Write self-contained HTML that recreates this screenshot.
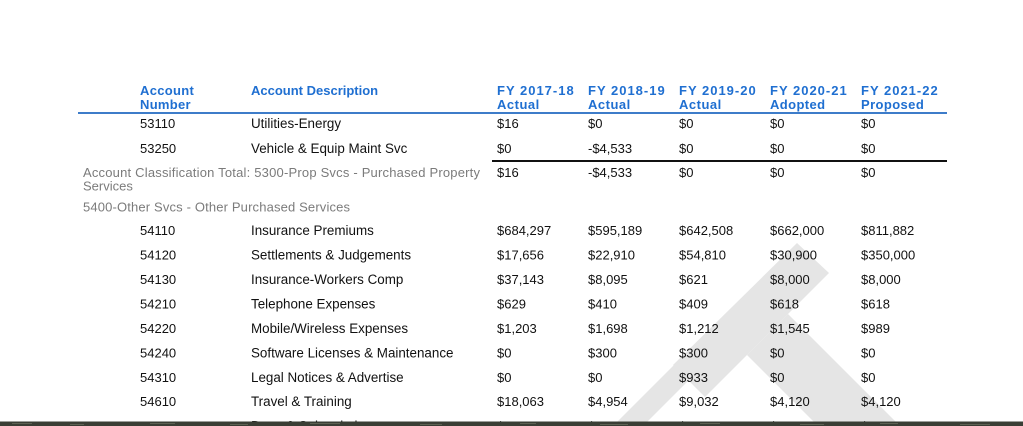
<!DOCTYPE html>
<html><head><meta charset="utf-8"><style>
html,body{margin:0;padding:0;background:#fff;width:1023px;height:426px;overflow:hidden}
svg{display:block}
text{font-family:"Liberation Sans",Arial,sans-serif;font-size:13px;fill:#111}
.h{font-weight:bold;fill:#1f6fd1}
.g{fill:#7b7b7b}
.d{font-size:13.4px}
</style></head><body>
<svg width="1023" height="426" viewBox="0 0 1023 426" xmlns="http://www.w3.org/2000/svg">
<rect width="1023" height="426" fill="#fff"/>
<!-- watermark -->
<g fill="#e5e5e5">
<polygon points="673,365 797,243 829,273 705,397"/>
<polygon points="747,355 788,314 900,426 818,426"/>
<polygon points="613,426 675,364 690,379 643,426"/>
</g>
<!-- header -->
<g class="h">
<text class="h" x="140" y="95" letter-spacing="0.3">Account</text>
<text class="h" x="140" y="109" letter-spacing="0.3">Number</text>
<text class="h" x="251" y="95">Account Description</text>
<text class="h" x="497" y="95" letter-spacing="1">FY 2017-18</text>
<text class="h" x="497" y="109" letter-spacing="0.5">Actual</text>
<text class="h" x="588" y="95" letter-spacing="1">FY 2018-19</text>
<text class="h" x="588" y="109" letter-spacing="0.5">Actual</text>
<text class="h" x="679" y="95" letter-spacing="1">FY 2019-20</text>
<text class="h" x="679" y="109" letter-spacing="0.5">Actual</text>
<text class="h" x="770" y="95" letter-spacing="1">FY 2020-21</text>
<text class="h" x="770" y="109" letter-spacing="0.4">Adopted</text>
<text class="h" x="861" y="95" letter-spacing="1">FY 2021-22</text>
<text class="h" x="861" y="109" letter-spacing="0.4">Proposed</text>
</g>
<rect x="78" y="112" width="869" height="2" fill="#3d7cc9"/>
<!-- rows 53xx -->
<text x="140" y="128">53110</text><text class="d" x="251" y="128">Utilities-Energy</text>
<text x="497" y="128">$16</text><text x="588" y="128">$0</text><text x="679" y="128">$0</text><text x="770" y="128">$0</text><text x="861" y="128">$0</text>
<text x="140" y="153">53250</text><text class="d" x="251" y="153">Vehicle &amp; Equip Maint Svc</text>
<text x="497" y="153">$0</text><text x="588" y="153">-$4,533</text><text x="679" y="153">$0</text><text x="770" y="153">$0</text><text x="861" y="153">$0</text>
<rect x="492" y="160" width="455" height="2" fill="#111"/>
<text class="g" x="83" y="177" textLength="397" lengthAdjust="spacing">Account Classification Total: 5300-Prop Svcs - Purchased Property</text>
<text class="g" x="83" y="190.5">Services</text>
<text x="497" y="177">$16</text><text x="588" y="177">-$4,533</text><text x="679" y="177">$0</text><text x="770" y="177">$0</text><text x="861" y="177">$0</text>
<text class="g" x="83" y="211.5" textLength="267" lengthAdjust="spacing">5400-Other Svcs - Other Purchased Services</text>
<!-- rows 54xx -->
<g>
<text x="140" y="235">54110</text><text class="d" x="251" y="235">Insurance Premiums</text>
<text x="497" y="235">$684,297</text><text x="588" y="235">$595,189</text><text x="679" y="235">$642,508</text><text x="770" y="235">$662,000</text><text x="861" y="235">$811,882</text>

<text x="140" y="259.5">54120</text><text class="d" x="251" y="259.5">Settlements &amp; Judgements</text>
<text x="497" y="259.5">$17,656</text><text x="588" y="259.5">$22,910</text><text x="679" y="259.5">$54,810</text><text x="770" y="259.5">$30,900</text><text x="861" y="259.5">$350,000</text>

<text x="140" y="284">54130</text><text class="d" x="251" y="284">Insurance-Workers Comp</text>
<text x="497" y="284">$37,143</text><text x="588" y="284">$8,095</text><text x="679" y="284">$621</text><text x="770" y="284">$8,000</text><text x="861" y="284">$8,000</text>

<text x="140" y="308.5">54210</text><text class="d" x="251" y="308.5">Telephone Expenses</text>
<text x="497" y="308.5">$629</text><text x="588" y="308.5">$410</text><text x="679" y="308.5">$409</text><text x="770" y="308.5">$618</text><text x="861" y="308.5">$618</text>

<text x="140" y="333">54220</text><text class="d" x="251" y="333">Mobile/Wireless Expenses</text>
<text x="497" y="333">$1,203</text><text x="588" y="333">$1,698</text><text x="679" y="333">$1,212</text><text x="770" y="333">$1,545</text><text x="861" y="333">$989</text>

<text x="140" y="357.5">54240</text><text class="d" x="251" y="357.5">Software Licenses &amp; Maintenance</text>
<text x="497" y="357.5">$0</text><text x="588" y="357.5">$300</text><text x="679" y="357.5">$300</text><text x="770" y="357.5">$0</text><text x="861" y="357.5">$0</text>

<text x="140" y="382">54310</text><text class="d" x="251" y="382">Legal Notices &amp; Advertise</text>
<text x="497" y="382">$0</text><text x="588" y="382">$0</text><text x="679" y="382">$933</text><text x="770" y="382">$0</text><text x="861" y="382">$0</text>

<text x="140" y="406">54610</text><text class="d" x="251" y="406">Travel &amp; Training</text>
<text x="497" y="406">$18,063</text><text x="588" y="406">$4,954</text><text x="679" y="406">$9,032</text><text x="770" y="406">$4,120</text><text x="861" y="406">$4,120</text>

<text x="140" y="430.5">54910</text><text class="d" x="251" y="430.5">Dues &amp; Subscriptions</text>
<text x="497" y="430.5">$297</text><text x="588" y="430.5">$199</text><text x="679" y="430.5">$504</text><text x="770" y="430.5">$1,029</text><text x="861" y="430.5">$1,029</text>
</g>
<!-- bottom photo strip -->
<rect x="0" y="421.5" width="1023" height="4.5" fill="#3a3e35"/>
<g fill="#6b7060" opacity="0.7">
<rect x="12" y="423" width="20" height="1"/><rect x="70" y="424" width="14" height="1"/><rect x="150" y="423" width="25" height="1"/>
<rect x="230" y="424" width="18" height="1"/><rect x="310" y="423" width="30" height="1"/><rect x="420" y="424" width="22" height="1"/>
<rect x="520" y="423" width="16" height="1"/><rect x="600" y="424" width="28" height="1"/><rect x="700" y="423" width="20" height="1"/>
<rect x="800" y="424" width="24" height="1"/><rect x="880" y="423" width="18" height="1"/><rect x="960" y="424" width="30" height="1"/>
</g>
</svg>
</body></html>
